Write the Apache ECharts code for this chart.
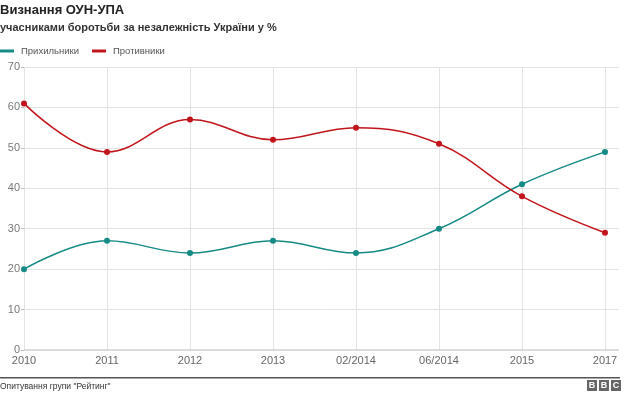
<!DOCTYPE html>
<html><head><meta charset="utf-8">
<script src="https://cdn.jsdelivr.net/npm/echarts@6/dist/echarts.min.js"></script>
<style>html,body{margin:0;padding:0;background:#fff}#c{width:640px;height:394px}</style>
</head><body><div id="c"></div>
<script>
const categories = ['2010','2011','2012','2013','02/2014','06/2014','2015','2017'];
const supporters = [20,27,24,27,24,30,41,49];
const opponents = [61,49,57,52,55,51,38,29];
const yTicks = [0,10,20,30,40,50,60,70];
const seriesNames = ['Прихильники','Противники'];
const titleText = 'Визнання ОУН-УПА';
const subtitleText = 'учасниками боротьби за незалежність України у %';
const sourceText = 'Опитування групи "Рейтинг"';

const font = 'Liberation Sans, Arial, sans-serif';
const teal = '#168a85';
const red = '#c2151b';
const chart = echarts.init(document.getElementById('c'));
chart.setOption({
  animation:false,
  title:[
    {text:titleText,left:0,top:4,padding:0,textStyle:{fontFamily:font,fontSize:13,fontWeight:'bold',color:'#222'}},
    {text:subtitleText,left:0,top:22,padding:0,textStyle:{fontFamily:font,fontSize:11,fontWeight:'bold',color:'#333'}}
  ],
  legend:{left:0,top:46,padding:0,itemGap:13,itemWidth:14,itemHeight:3,icon:'rect',
    data:seriesNames,textStyle:{fontFamily:font,fontSize:9.5,color:'#555',padding:[0,0,0,2]}},
  grid:[
    {left:24,right:35,top:67,bottom:44,containLabel:false},
    {left:24,right:21,top:67,bottom:44,containLabel:false}
  ],
  xAxis:[
    {type:'category',gridIndex:0,data:categories,boundaryGap:false,
     axisLine:{show:false},axisTick:{show:false},
     axisLabel:{fontFamily:font,fontSize:11,color:'#666',margin:5},
     splitLine:{show:true,lineStyle:{color:'#e3e3e3',width:1}}},
    {type:'value',gridIndex:1,show:false,min:0,max:1}
  ],
  yAxis:[
    {type:'value',gridIndex:0,min:0,max:70,interval:10,
     axisLine:{show:false},axisTick:{show:false},axisLabel:{show:false},splitLine:{show:false}},
    {type:'value',gridIndex:1,min:0,max:70,interval:10,
     axisLine:{show:false},
     axisTick:{show:true,length:3,lineStyle:{color:'#bbb'}},
     axisLabel:{fontFamily:font,fontSize:11,color:'#777',margin:4,
       formatter:function(v){return yTicks.indexOf(v)>=0?String(v):'';}},
     splitLine:{show:true,lineStyle:{color:'#e3e3e3',width:1}}}
  ],
  series:[
    {name:seriesNames[0],type:'line',xAxisIndex:0,yAxisIndex:0,data:supporters,smooth:0.4,
     symbol:'circle',symbolSize:6,color:teal,lineStyle:{width:1.5,color:teal},itemStyle:{color:teal},z:3},
    {name:seriesNames[1],type:'line',xAxisIndex:0,yAxisIndex:0,data:opponents,smooth:0.4,
     symbol:'circle',symbolSize:6,color:red,lineStyle:{width:1.5,color:red},itemStyle:{color:red},z:3},
    {type:'line',xAxisIndex:1,yAxisIndex:1,data:[[0,0],[1,0]],symbol:'none',silent:true,
     lineStyle:{color:'#bbb',width:1},z:1,legendHoverLink:false}
  ],
  graphic:[
    {type:'rect',shape:{x:0,y:377,width:620,height:1.5},style:{fill:'#555'}},
    {type:'text',left:0,top:382,style:{text:sourceText,font:'8.5px '+font,fill:'#333'}},
    {type:'group',left:587,top:380,children:[
      {type:'rect',shape:{x:0,y:0,width:10,height:11},style:{fill:'#666'}},
      {type:'rect',shape:{x:12,y:0,width:10,height:11},style:{fill:'#666'}},
      {type:'rect',shape:{x:24,y:0,width:10,height:11},style:{fill:'#666'}},
      {type:'text',x:5,y:5.5,style:{text:'B',font:'bold 9px '+font,fill:'#fff',align:'center',verticalAlign:'middle'}},
      {type:'text',x:17,y:5.5,style:{text:'B',font:'bold 9px '+font,fill:'#fff',align:'center',verticalAlign:'middle'}},
      {type:'text',x:29,y:5.5,style:{text:'C',font:'bold 9px '+font,fill:'#fff',align:'center',verticalAlign:'middle'}}
    ]}
  ]
});
</script></body></html>
